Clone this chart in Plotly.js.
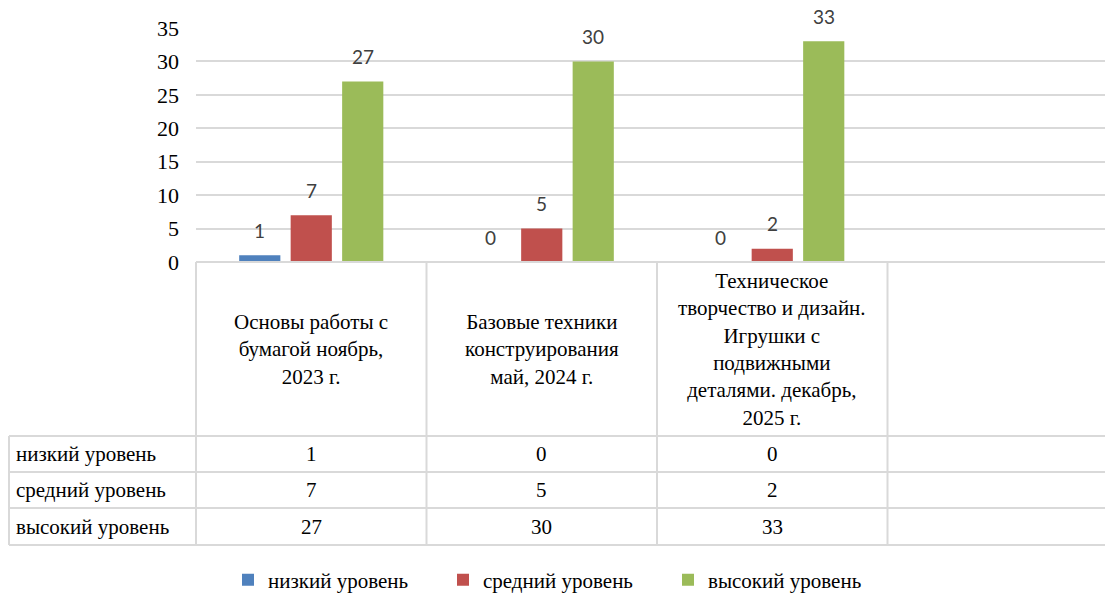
<!DOCTYPE html>
<html>
<head>
<meta charset="utf-8">
<script src="https://cdn.plot.ly/plotly-3.0.1.min.js"></script>
<style>
html,body{margin:0;padding:0;background:#fff;}
#chart{width:1105px;height:594px;}
</style>
</head>
<body>
<div id="chart"></div>
<script>
const categories = [
  'Основы работы с<br>бумагой ноябрь,<br>2023 г.',
  'Базовые техники<br>конструирования<br>май, 2024 г.',
  'Техническое<br>творчество и дизайн.<br>Игрушки с<br>подвижными<br>деталями. декабрь,<br>2025 г.'
];
const seriesNames = ['низкий уровень', 'средний уровень', 'высокий уровень'];
const lowLevel = [1, 0, 0];
const midLevel = [7, 5, 2];
const highLevel = [27, 30, 33];
const seriesValues = [lowLevel, midLevel, highLevel];
const seriesColors = ['#4F81BD', '#C0504D', '#9BBB59'];
const yTicks = [0, 5, 10, 15, 20, 25, 30, 35];

const W = 1105, H = 594;
const PL = 196, PR = 1105, PT = 28, PB = 262;
const px = p => (p - PL) / (PR - PL);
const py = p => (PB - p) / (PB - PT);
const SERIF = 'Liberation Serif';
const SANS = 'Lato';
const GRID = '#d9d9d9';
const legendWidths = [170, 180, 175];

const BARGAP = 0.33, GROUPGAP = 0.2;
const slot = (1 - BARGAP) / seriesValues.length;
const xIdx = categories.map((c, i) => i);

const traces = seriesValues.map((vals, s) => ({
  type: 'bar',
  name: seriesNames[s],
  x: xIdx,
  y: vals,
  marker: {color: seriesColors[s]},
  legendwidth: legendWidths[s],
  hoverinfo: 'skip'
}));

const annotations = [];
seriesValues.forEach((vals, s) => {
  vals.forEach((v, i) => {
    annotations.push({
      xref: 'x', yref: 'y', x: i + (s - 1) * slot, y: v,
      text: String(v), showarrow: false, yshift: 25, yanchor: 'middle',
      font: {family: SANS, size: 19, color: '#404040'}
    });
  });
});
const serifIdx = [];
categories.forEach((c, i) => {
  serifIdx.push(annotations.length);
  annotations.push({
    xref: 'x', yref: 'paper', x: i, y: py(349),
    text: c, showarrow: false, yanchor: 'middle', xanchor: 'center', align: 'center',
    font: {family: SERIF, size: 21, color: '#000'}
  });
});
const rowCenters = [454, 490, 526.5];
seriesNames.forEach((n, s) => {
  serifIdx.push(annotations.length);
  annotations.push({
    xref: 'paper', yref: 'paper', x: px(14), y: py(rowCenters[s]),
    text: n, showarrow: false, xanchor: 'left', yanchor: 'middle',
    font: {family: SERIF, size: 21, color: '#000'}
  });
  seriesValues[s].forEach((v, i) => {
    serifIdx.push(annotations.length);
    annotations.push({
      xref: 'x', yref: 'paper', x: i, y: py(rowCenters[s]),
      text: String(v), showarrow: false, xanchor: 'center', yanchor: 'middle',
      font: {family: SERIF, size: 21, color: '#000'}
    });
  });
});

const shapes = [];
const line = {color: GRID, width: 2};
[436, 472, 508, 545].forEach(yp => shapes.push({type: 'line', xref: 'paper', yref: 'paper', x0: px(9), x1: 1, y0: py(yp), y1: py(yp), line}));
shapes.push({type: 'line', xref: 'paper', yref: 'paper', x0: 0, x1: 1, y0: 0, y1: 0, line});
shapes.push({type: 'line', xref: 'paper', yref: 'paper', x0: px(9), x1: px(9), y0: py(436), y1: py(545), line});
shapes.push({type: 'line', xref: 'paper', yref: 'paper', x0: 0, x1: 0, y0: 0, y1: py(545), line});
[0.5, 1.5, 2.5].forEach(xv => shapes.push({type: 'line', xref: 'x', yref: 'paper', x0: xv, x1: xv, y0: 0, y1: py(545), line}));

const layout = {
  width: W, height: H,
  font: {family: SERIF, color: '#000'},
  margin: {l: PL, r: W - PR, t: PT, b: H - PB, pad: 0},
  paper_bgcolor: '#fff', plot_bgcolor: '#fff',
  barmode: 'group', bargap: BARGAP, bargroupgap: GROUPGAP,
  showlegend: true,
  legend: {
    orientation: 'h', xref: 'container', yref: 'container',
    x: 228 / W, xanchor: 'left', y: (H - 580) / H, yanchor: 'middle',
    font: {family: SERIF, size: 21, color: '#000'},
    itemwidth: 30, traceorder: 'normal', entrywidthmode: 'pixels'
  },
  xaxis: {
    type: 'linear', range: [-0.5, -0.5 + (PR - PL) / 230.5],
    showticklabels: false, showgrid: false, zeroline: false, showline: false, ticks: ''
  },
  yaxis: {
    range: [0, 35], tickvals: yTicks, ticktext: yTicks.map(String),
    showgrid: true, gridcolor: GRID, gridwidth: 1.5,
    zeroline: false, showline: false, ticks: '',
    ticklabelstandoff: 16,
    tickfont: {family: SERIF, size: 22, color: '#000'}
  },
  annotations, shapes
};

Plotly.newPlot('chart', traces, layout, {displayModeBar: false}).then(gd => {
  const force = el => el.style.setProperty('font-family', "'Liberation Serif', 'Times New Roman', serif", 'important');
  const nodes = gd.querySelectorAll('.annotation');
  serifIdx.forEach(k => { if (nodes[k]) nodes[k].querySelectorAll('text').forEach(force); });
  gd.querySelectorAll('.ytick text, .legendtext').forEach(force);
});
</script>
</body>
</html>
